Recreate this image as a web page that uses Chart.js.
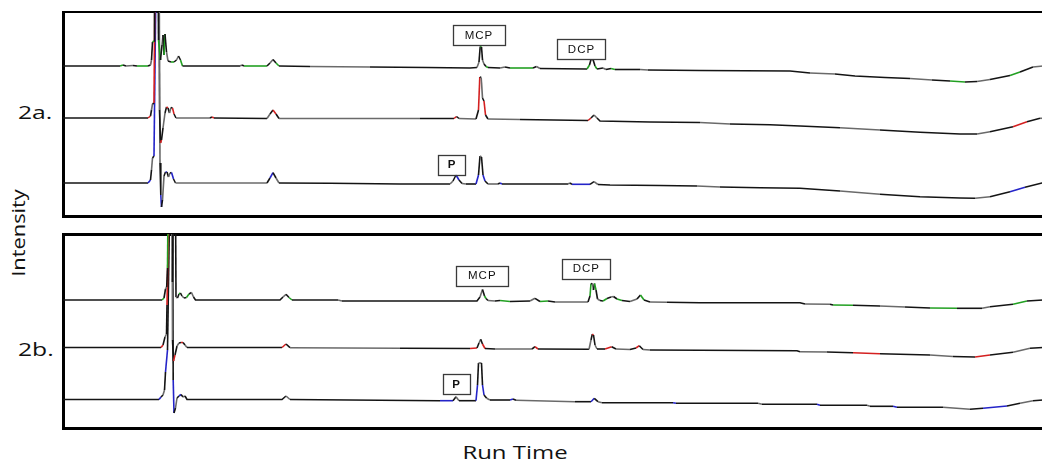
<!DOCTYPE html>
<html>
<head>
<meta charset="utf-8">
<script src="https://cdn.jsdelivr.net/npm/chart.js@4.4.0/dist/chart.umd.min.js"></script>
<style>
html,body{margin:0;padding:0;background:#fff;overflow:hidden;width:1042px;height:463px;}
#wrap{position:relative;width:1042px;height:463px;overflow:hidden;}
canvas{position:absolute;}
#c1{left:59px;top:9px;}
#c2{left:59px;top:231px;}
.lbl{position:absolute;font-family:"Open Sans";font-size:19px;color:#111;white-space:nowrap;line-height:19px;}
</style>
</head>
<body>
<div id="wrap">
  <canvas id="c1" width="985" height="210"></canvas>
  <canvas id="c2" width="985" height="200"></canvas>
  <div class="lbl" id="l2a" style="left:18px;top:103px;transform-origin:0 50%;transform:scaleX(1.3);">2a.</div>
  <div class="lbl" id="l2b" style="left:18px;top:340px;transform-origin:0 50%;transform:scaleX(1.3);">2b.</div>
  <div class="lbl" id="lint" style="left:18px;top:233px;transform:translate(-50%,-50%) rotate(-90deg) scaleX(1.15);">Intensity</div>
  <div class="lbl" id="lrt" style="left:515px;top:443px;transform:translateX(-50%) scaleX(1.26);">Run Time</div>
</div>
<script>
// ---------- DATA (run time in arbitrary units, signal relative to each trace's start level) ----------
const traceNames = ['Green', 'Red', 'Blue'];

// Panel 2a
const topGreen = [
  [0,0],[5.7,0],[6.0,1],[6.3,0],[7.0,0.5],[7.4,0],[8.5,0],[8.75,1],[8.85,6],[8.95,24],[9.1,25],
  [9.15,200],[9.45,200],[9.55,26],[9.75,6],[9.9,21],[10.0,31],[10.1,11],[10.2,32],[10.35,14],[10.5,5],
  [10.8,4],[11.1,4],[11.35,6],[11.55,10],[11.75,6],[11.95,0],[17.7,0],[17.9,1],[18.1,0],
  [20.4,0],[20.7,3],[21.0,6.5],[21.3,3],[21.6,0],[24.7,-0.5],[30.7,-1],[36.4,-1.5],[40.7,-2],
  [41.4,-1.5],[41.6,4],[41.72,19.5],[41.85,19],[41.95,6],[42.1,2],[42.3,-0.5],[42.5,-1.5],
  [43.7,-2],[44.2,-1],[44.7,-2],[47.0,-2],[47.35,-0.5],[47.7,-2.5],[52.4,-3],[52.65,1],[52.8,6.5],
  [53.0,6.5],[53.2,0],[53.4,-3],[54.0,-2],[54.3,-3.5],[54.8,-2.5],[55.2,-3.5],[57.7,-3.5],[58.5,-4],
  [63.7,-4.5],[72.7,-5],[74.7,-7],[77.2,-8],[79.2,-10],[82.2,-11.5],[84.7,-12.5],[86.9,-14],
  [88.7,-15],[90.2,-16],[91.4,-15.5],[92.7,-13.5],[94.7,-9.5],[95.7,-6],[97.0,-1],[98,0]
];
const topRed = [
  [0,0],[8.5,0],[8.75,2],[8.85,8],[8.95,14],[9.1,15],[9.25,200],[9.55,200],[9.65,8],[9.75,-25],
  [9.85,-22],[10.0,-10],[10.2,5],[10.35,11],[10.5,10],[10.65,5],[10.8,10.5],[10.95,10],[11.1,4],
  [11.3,0],[14.7,0],[14.9,1],[15.1,0],[20.4,-0.5],[20.7,4],[21.0,8],[21.3,4],[21.6,-0.5],
  [35.7,-0.5],[39.1,-0.5],[39.35,1.5],[39.6,-0.5],[41.3,-1],[41.55,8],[41.68,41],[41.82,40.5],
  [41.95,20],[42.1,17],[42.25,3],[42.5,-1],[45.7,-1.5],[52.5,-2.5],[52.8,0],[53.1,3],[53.4,0],
  [53.7,-3],[58.7,-4],[63.7,-4.5],[66.7,-6],[70.7,-6.7],[73.7,-8],[77.7,-9.7],[81.7,-12],
  [85.7,-14.3],[89.7,-16],[91.4,-16],[92.7,-13.7],[95.0,-8.7],[96.4,-3.7],[97.7,-0.3],[98,-0.3]
];
const topBlue = [
  [0,0],[8.5,0],[8.75,3],[8.85,13],[8.95,25],[9.1,27],[9.35,250],[9.6,250],[9.7,20],[9.78,-12],
  [9.85,-24],[9.95,-17],[10.1,7],[10.25,11],[10.4,11],[10.55,6],[10.7,10],[10.85,10.5],[11.05,4],
  [11.25,0],[20.4,0],[20.7,5],[21.0,10.3],[21.3,5],[21.6,0],[26.7,-0.3],[33.7,-1],[38.7,-1],
  [39.0,2],[39.3,8],[39.6,3],[39.9,-0.5],[40.3,-1],[41.3,-1],[41.55,8],[41.7,27],[41.85,26],
  [42.0,8],[42.2,2],[42.5,-1],[43.5,-1],[43.7,0],[43.9,-1],[50.5,-1],[50.7,0],[50.9,-1.3],
  [52.7,-1.3],[53.1,1.3],[53.5,-1.5],[54.7,-2],[59.7,-2.5],[63.4,-3],[65.7,-4],[69.7,-4.7],
  [73.7,-5.3],[77.7,-8],[81.7,-11.3],[85.7,-13.7],[89.7,-15],[91.2,-15.3],[92.7,-13.7],
  [94.7,-8.7],[96.2,-4.3],[98,0.3]
];

// Panel 2b
const bottomGreen = [
  [0,0],[9.9,0],[10.1,2],[10.25,11],[10.37,13],[10.45,32],[10.6,200],[10.8,200],[10.95,18],
  [11.1,200],[11.2,200],[11.3,3],[11.45,2],[11.6,6],[11.75,7],[11.9,4],[12.1,2],[12.35,2.5],
  [12.6,6],[12.85,7.5],[13.05,3],[13.25,0],[21.7,0],[22.0,3],[22.3,5.7],[22.6,2.5],[22.9,0],
  [27.5,0],[27.9,-1],[33.7,-1],[41.4,-1],[41.7,3],[41.95,10.5],[42.15,4],[42.3,1.5],[42.5,-0.5],
  [43.2,-1],[43.7,-0.5],[44.7,-1.5],[46.7,-1],[47.2,1.7],[47.7,-1.5],[48.5,-1],[49.2,-2],
  [52.5,-2],[52.7,4],[52.8,16.5],[52.95,16],[53.05,10],[53.15,16.5],[53.3,10],[53.45,1],
  [53.7,-0.5],[54.0,-1],[54.4,1.5],[54.8,3],[55.05,3.5],[55.4,1],[55.9,-0.5],[56.7,-1.5],
  [57.4,1],[57.75,5],[58.1,0],[58.7,-2],[60.4,-2.3],[63.7,-2.7],[73.7,-2.7],[74.2,-4],
  [76.7,-4.3],[77.0,-5],[79.0,-5.3],[81.7,-6],[84.2,-7],[86.7,-8],[89.4,-8.3],[91.9,-8.3],
  [92.7,-6.7],[95.0,-4.3],[96.4,-1],[98,0]
];
const bottomRed = [
  [0,-0.5],[9.8,-0.5],[10.0,2],[10.2,10],[10.35,13],[10.4,42],[10.7,200],[10.9,200],[10.95,7],
  [11.05,-14],[11.2,-8],[11.4,1],[11.6,4],[11.8,4.5],[12.0,4.5],[12.2,2],[12.4,-0.5],[21.9,-0.5],
  [22.3,3],[22.7,-0.7],[33.7,-1.3],[40.7,-1.5],[41.4,-1],[41.6,4],[41.77,7.7],[41.95,3],
  [42.2,-1.5],[43.2,-2],[46.9,-2],[47.2,0.3],[47.5,-2],[52.6,-2.3],[52.8,7],[52.93,12.7],
  [53.05,12],[53.2,2],[53.4,-2],[54.2,-2],[54.87,0.3],[55.3,-2],[56.7,-2.5],[57.3,-1],[57.63,1.3],
  [58.0,-2.5],[58.7,-3],[63.7,-3.3],[73.4,-3.7],[73.7,-4.7],[76.4,-5],[79.0,-5.7],[81.7,-6.7],
  [86.7,-8],[89.0,-9.5],[91.2,-10],[92.7,-8],[95.0,-5.3],[96.7,-1.3],[98,-0.5]
];
const bottomBlue = [
  [0,-0.5],[9.6,-0.5],[9.8,2],[10.0,4],[10.15,9],[10.25,27],[10.45,49],[10.75,250],[10.95,250],
  [11.02,19],[11.1,-14],[11.25,-9],[11.4,1],[11.6,3],[11.8,4.5],[12.0,2],[12.2,3],[12.4,-0.5],
  [21.9,-0.5],[22.3,3],[22.7,-0.5],[37.7,-1.7],[39.0,-1.7],[39.3,2.3],[39.6,-1.7],[41.3,-1.7],
  [41.45,14],[41.55,36],[41.85,36],[41.95,14],[42.1,4],[42.37,0.7],[42.7,-1],[44.7,-1],[45.0,0],
  [45.3,-1.3],[51.2,-2.7],[52.8,-2.7],[53.13,0.7],[53.5,-2.7],[53.9,-3.7],[61.0,-3.7],[61.3,-4.3],
  [69.5,-4.3],[69.9,-5.3],[75.4,-5.3],[75.7,-6.3],[80.4,-6.3],[80.7,-7.3],[83.0,-7.3],[83.4,-8.3],
  [88.0,-8.3],[90.7,-10.3],[92.0,-9.3],[94.4,-7],[95.7,-4.3],[97.0,-1.7],[98,-1]
];

// vertical stacking of the three traces in each panel (signal units)
const topStack = [150, 98, 33];
const bottomStack = [128, 81, 29];
const topRange = [0, 204];
const bottomRange = [0, 194];
const timeRange = [0, 98];

// peak labels: [label, run time, signal level of label centre]
const topPeakLabels = [['MCP', 41.55, 181], ['DCP', 51.8, 167], ['P', 38.87, 51.5]];
const bottomPeakLabels = [['MCP', 41.88, 152.3], ['DCP', 52.28, 159.2], ['P', 39.3, 43.7]];

// ---------- STYLE ----------
const traceColors = ['#22a022', '#d42020', '#2424c8'];
const labelBox = { MCP: 52, DCP: 48, P: 27, h: 20 };

const boxLabels = {
  id: 'boxLabels',
  afterDatasetsDraw(chart, args, opts) {
    const { ctx } = chart;
    const xs = chart.scales.x, ys = chart.scales.y;
    opts.items.forEach(([label, t, v]) => {
      const cx = xs.getPixelForValue(t), cy = ys.getPixelForValue(v);
      const w = labelBox[label], h = labelBox.h;
      ctx.save();
      ctx.fillStyle = '#fff';
      ctx.fillRect(cx - w / 2, cy - h / 2, w, h);
      ctx.strokeStyle = '#3a3a3a';
      ctx.lineWidth = 1.3;
      ctx.strokeRect(Math.round(cx - w / 2) + 0.5, Math.round(cy - h / 2) + 0.5, w, h);
      ctx.fillStyle = '#111';
      ctx.font = (label === 'P' ? 'bold ' : '') + '11.5px "Liberation Sans", Arial, sans-serif';
      ctx.textAlign = 'center';
      ctx.textBaseline = 'middle';
      if ('letterSpacing' in ctx) ctx.letterSpacing = '1px';
      ctx.fillText(label, cx + 0.5, cy + 0.5);
      ctx.restore();
    });
  }
};

function makeDatasets(series, stack) {
  return series.map((pts, i) => ({
    label: traceNames[i],
    data: pts.map(([t, s]) => ({ x: t, y: s + stack[i] })),
    borderColor: '#111',
    borderWidth: 1.6,
    pointRadius: 0,
    tension: 0,
    fill: false,
    segment: {
      borderColor: c => {
        const k = c.p0DataIndex % 4;
        const span = c.p1.parsed.x - c.p0.parsed.x;
        if (k === 1 && span < 3) return traceColors[i];
        if (k === 3) return '#6a6a6a';
        return '#141414';
      }
    }
  }));
}

function makeChart(id, series, stack, range, labels, topBorder) {
  const hidden = { display: false, drawTicks: false };
  return new Chart(document.getElementById(id), {
    type: 'line',
    data: { datasets: makeDatasets(series, stack) },
    options: {
      responsive: false,
      animation: false,
      layout: { padding: { left: 4, top: 3, bottom: 3, right: 1 } },
      plugins: { legend: { display: false }, tooltip: { enabled: false }, boxLabels: { items: labels } },
      scales: {
        x: { type: 'linear', min: timeRange[0], max: timeRange[1], grid: hidden, ticks: { display: false },
             border: { display: true, width: 3, color: '#000' } },
        xTop: { type: 'linear', position: 'top', min: timeRange[0], max: timeRange[1], grid: hidden,
                ticks: { display: false }, border: { display: true, width: topBorder, color: '#000' } },
        y: { type: 'linear', min: range[0], max: range[1], grid: hidden, ticks: { display: false },
             border: { display: true, width: 3, color: '#000' } }
      }
    },
    plugins: [boxLabels]
  });
}

makeChart('c1', [topGreen, topRed, topBlue], topStack, topRange, topPeakLabels, 2);
makeChart('c2', [bottomGreen, bottomRed, bottomBlue], bottomStack, bottomRange, bottomPeakLabels, 3);
</script>
</body>
</html>
